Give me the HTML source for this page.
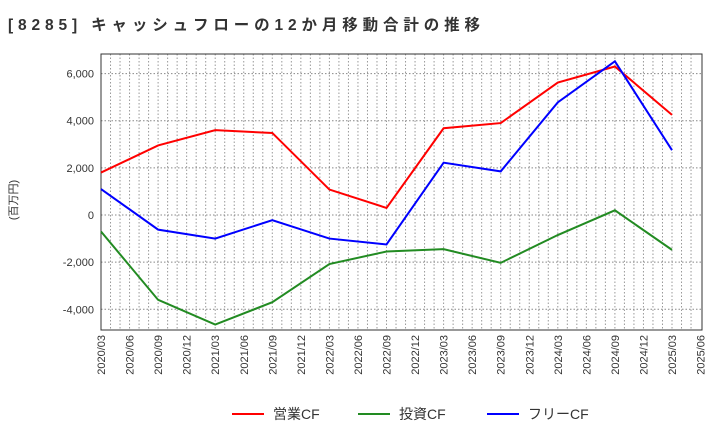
<!DOCTYPE html>
<html><head><meta charset="utf-8"><style>
body{margin:0;background:#fff;font-family:"Liberation Sans","Noto Sans CJK JP",sans-serif}
</style></head><body>
<svg id="c" width="720" height="440" xmlns="http://www.w3.org/2000/svg">
<text x="8" y="30" font-size="15.5" font-weight="bold" fill="#333" textLength="472" lengthAdjust="spacing" font-family="Liberation Sans, Noto Sans CJK JP, sans-serif">[8285]  キャッシュフローの12か月移動合計の推移</text>
<text transform="translate(17,200) rotate(-90)" text-anchor="middle" font-size="11" fill="#333" font-family="Liberation Sans, Noto Sans CJK JP, sans-serif">(百万円)</text>
<g id="grid"></g><g id="axes"></g><g id="series"></g><g id="legend"></g>
</svg>
<script>
const xLabels=["2020/03","2020/06","2020/09","2020/12","2021/03","2021/06","2021/09","2021/12","2022/03","2022/06","2022/09","2022/12","2023/03","2023/06","2023/09","2023/12","2024/03","2024/06","2024/09","2024/12","2025/03","2025/06"];
const pointQuarters=[0,2,4,6,8,10,12,14,16,18,20];
const operatingCF=[1800,2950,3600,3480,1080,300,3680,3900,5620,6300,4250];
const investingCF=[-700,-3600,-4650,-3700,-2080,-1550,-1450,-2030,-850,200,-1480];
const freeCF=[1100,-620,-1000,-220,-1000,-1250,2220,1850,4780,6520,2750];
const yTicks=[-4000,-2000,0,2000,4000,6000];
const NS="http://www.w3.org/2000/svg";
const L=101,R=702,T=54,B=330;
const xq=q=>L+q*28.55;
const y=v=>215-v*0.02357;
function mk(p,tag,at){const e=document.createElementNS(NS,tag);for(const k in at)e.setAttribute(k,at[k]);p.appendChild(e);return e;}
const g=document.getElementById('grid'),a=document.getElementById('axes'),s=document.getElementById('series'),lg=document.getElementById('legend');
for(let m=1;m<63;m++){const x=xq(m/3);if(x>=R)break;
const l=mk(g,'line',{x1:x,x2:x,y1:T,y2:B,stroke:'#999','stroke-dasharray':'1.5,2','stroke-width':1});

}
yTicks.forEach(v=>{const l=mk(g,'line',{x1:L,x2:R,y1:y(v),y2:y(v),stroke:'#888','stroke-dasharray':'1.5,2','stroke-width':1});


const t=mk(a,'text',{x:L-7,y:y(v)+4,'text-anchor':'end','font-size':11,fill:'#333'});t.textContent=v.toLocaleString('en-US');

});
const fr=mk(a,'rect',{x:L,y:T,width:R-L,height:B-T,fill:'none',stroke:'#333','stroke-width':1});


xLabels.forEach((lb,i)=>{const x=xq(i);const t=mk(a,'text',{transform:`translate(${x+4},${B+5}) rotate(-90)`,'text-anchor':'end','font-size':11,fill:'#333'});t.textContent=lb;

});
const ser=[[operatingCF,'#ff0000','operating-cf-line','営業CF',232],[investingCF,'#228b22','investing-cf-line','投資CF',358],[freeCF,'#0000ff','free-cf-line','フリーCF',487]];
ser.forEach(([d,c,n,lab,lx])=>{const pl=mk(s,'polyline',{points:d.map((v,i)=>xq(pointQuarters[i])+','+y(v)).join(' '),fill:'none',stroke:c,'stroke-width':2});


const ln=mk(lg,'line',{x1:lx,x2:lx+32,y1:414,y2:414,stroke:c,'stroke-width':2});


const t=mk(lg,'text',{x:lx+41,y:419,'font-size':14,fill:'#333'});t.textContent=lab;

});
</script>
</body></html>
